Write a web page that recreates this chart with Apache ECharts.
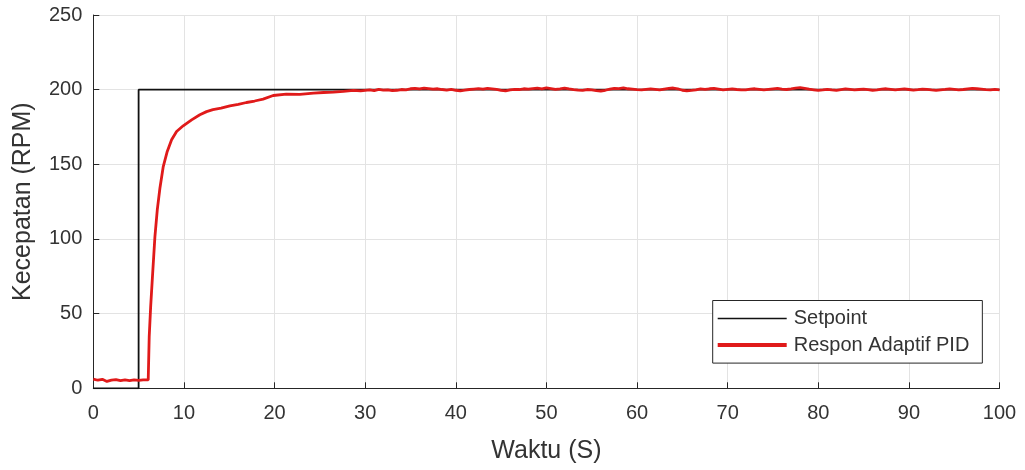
<!DOCTYPE html>
<html>
<head>
<meta charset="utf-8">
<script src="https://cdn.jsdelivr.net/npm/echarts@6/dist/echarts.min.js"></script>
<style>html,body{margin:0;padding:0;background:#fff}#c{width:1025px;height:470px}</style>
</head>
<body>
<div id="c"></div>
<script>
// Setpoint (time, rpm)
const setpointT = [0, 5, 5, 100];
const setpointV = [0, 0, 200, 200];

// Adaptive PID response: transient part (time, rpm)
const transT = [0,0.5,1,1.5,2,2.5,3,3.5,4,4.5,5,5.5,6.06,6.17,6.33,6.55,6.8,7.06,7.35,7.72,8.16,8.64,9.19,9.92,10.85,11.76,12.5,13.2,14.1,15.07,16,16.9,17.8,18.74,19.85,21.3,22.8,24.3,25.4,26.5,27.6,28.7,29.5];
const transV = [6.2,5.4,6.0,4.6,5.5,5.8,5.1,5.6,5.2,5.7,5.3,5.6,5.6,34.6,54.7,77,101.6,119.5,134,148.5,158.6,166.4,172,175.8,179.8,183.2,185.3,186.6,187.6,189.2,190.1,191.4,192.4,193.7,196.1,197,196.8,197.7,198.1,198.4,198.9,199.5,199.2];

// Steady-state part: samples every 0.5 s from 30 s to 100 s
const steadyStart = 30, steadyStep = 0.5;
const steadyV = [
199.5,199.8,199.3,200.2,199.7,199.9,199.3,199.6,200.1,199.8,
200.6,200.9,200.5,201.1,200.7,200.3,200.6,200.1,199.7,200.2,
199.6,199.2,199.7,200.1,200.4,200.7,200.3,200.8,200.5,200.2,
199.5,199.2,199.8,200.2,200.1,200.6,200.3,200.7,201.0,200.6,
201.2,200.7,200.2,200.6,201.1,200.5,200.0,199.7,199.5,200.1,
199.8,199.4,199.1,199.6,200.3,200.9,200.7,201.2,200.6,200.3,
200.0,199.8,200.2,200.5,200.2,199.8,200.4,200.8,201.1,200.6,
199.6,199.2,199.5,199.9,200.5,200.2,200.6,200.8,200.4,199.9,
200.2,200.5,200.1,199.8,199.9,200.3,200.6,200.2,199.8,200.2,
200.5,200.8,200.4,200.1,200.5,201.0,201.3,200.8,200.3,199.9,
199.5,199.8,200.2,199.8,199.5,200.0,200.5,200.2,199.8,200.1,
200.4,200.0,199.6,199.9,200.3,200.6,200.2,199.8,200.2,200.5,
200.1,199.7,200.0,200.4,200.2,199.8,199.5,199.9,200.2,200.6,
200.2,199.8,200.1,200.5,200.9,200.6,200.3,200.0,199.8,200.2,
199.9
];

const xTicks = [0,10,20,30,40,50,60,70,80,90,100];
const yTicks = [0,50,100,150,200,250];

const setpointData = setpointT.map((t, i) => [t, setpointV[i]]);
const respData = transT.map((t, i) => [t, transV[i]])
  .concat(steadyV.map((v, i) => [steadyStart + i * steadyStep, v]));

const txt = '#333333';
const axisCol = '#262626';
const font = 'Liberation Sans, Arial, sans-serif';

const chart = echarts.init(document.getElementById('c'), null, {renderer: 'canvas'});
chart.setOption({
  animation: false,
  backgroundColor: '#ffffff',
  grid: {left: 93.3, right: 25.5, top: 15, bottom: 81.7},
  xAxis: {
    type: 'value', min: xTicks[0], max: xTicks[xTicks.length-1], interval: 10,
    name: 'Waktu (S)', nameLocation: 'middle', nameGap: 50,
    nameTextStyle: {fontSize: 25, color: txt, fontFamily: font},
    axisLine: {show: true, onZero: false, lineStyle: {color: axisCol, width: 1}},
    axisTick: {show: true, inside: true, length: 6, lineStyle: {color: axisCol}},
    axisLabel: {fontSize: 20, color: txt, fontFamily: font, margin: 15},
    splitLine: {show: true, lineStyle: {color: '#e3e3e3', width: 1}}
  },
  yAxis: {
    type: 'value', min: yTicks[0], max: yTicks[yTicks.length-1], interval: 50,
    name: 'Kecepatan (RPM)', nameLocation: 'middle', nameGap: 58,
    nameTextStyle: {fontSize: 25, color: txt, fontFamily: font},
    axisLine: {show: true, lineStyle: {color: axisCol, width: 1}},
    axisTick: {show: true, inside: true, length: 6, lineStyle: {color: axisCol}},
    axisLabel: {fontSize: 20, color: txt, fontFamily: font, margin: 11},
    splitLine: {show: true, lineStyle: {color: '#e3e3e3', width: 1}}
  },
  legend: {
    orient: 'vertical', left: 712.7, top: 300.5,
    backgroundColor: '#ffffff', borderColor: axisCol, borderWidth: 1,
    padding: [8, 13, 8, 5], itemGap: 6.6, itemWidth: 69, itemHeight: 14,
    textStyle: {fontSize: 20, color: txt, fontFamily: font, padding: [0,0,0,2]},
    data: [
      {name: 'Setpoint', icon: 'path://M0,0L69,0L69,1.6L0,1.6Z', itemStyle: {color: '#111'}},
      {name: 'Respon Adaptif PID', icon: 'path://M0,0L69,0L69,4L0,4Z', itemStyle: {color: '#e01a1a'}}
    ]
  },
  series: [
    {name: 'Setpoint', type: 'line', data: setpointData, symbol: 'none',
     lineStyle: {color: '#111', width: 1.8}, itemStyle: {color: '#111'}, z: 2},
    {name: 'Respon Adaptif PID', type: 'line', data: respData, symbol: 'none',
     lineStyle: {color: '#e01a1a', width: 2.8}, itemStyle: {color: '#e01a1a'}, z: 3}
  ]
});
</script>
</body>
</html>
